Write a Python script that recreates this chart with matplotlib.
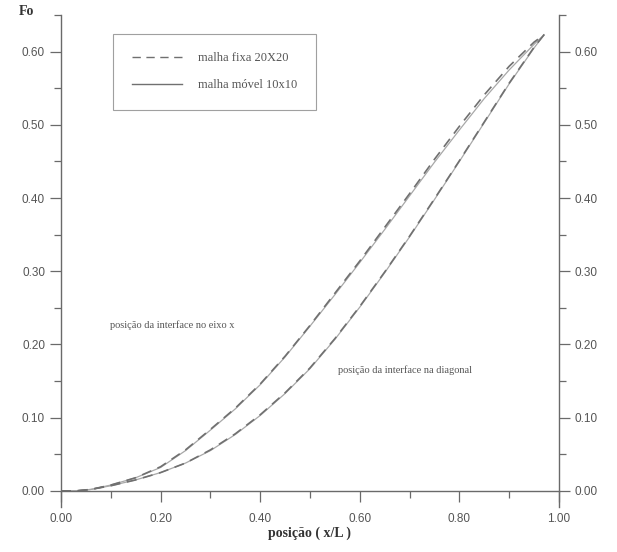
import numpy as np
import matplotlib.pyplot as plt
from matplotlib.ticker import MultipleLocator, FormatStrFormatter
from matplotlib.lines import Line2D

# posição (x/L)
x_pos = [0.00, 0.03, 0.06, 0.10, 0.15, 0.20, 0.25, 0.30, 0.35, 0.40, 0.45,
         0.50, 0.55, 0.60, 0.65, 0.70, 0.75, 0.80, 0.85, 0.90, 0.95, 0.97]

# interface no eixo x
fo_eixo_fixa = [0.000, 0.000, 0.002, 0.008, 0.018, 0.033, 0.056, 0.084, 0.113, 0.146, 0.184,
                0.226, 0.270, 0.314, 0.360, 0.406, 0.453, 0.498, 0.541, 0.580, 0.613, 0.623]
fo_eixo_movel = [0.000, 0.000, 0.002, 0.008, 0.018, 0.032, 0.055, 0.083, 0.112, 0.145, 0.183,
                 0.225, 0.268, 0.312, 0.357, 0.403, 0.449, 0.493, 0.536, 0.575, 0.610, 0.623]

# interface na diagonal
fo_diag_fixa = [0.000, 0.000, 0.002, 0.007, 0.015, 0.025, 0.038, 0.056, 0.078, 0.104, 0.134,
                0.168, 0.208, 0.252, 0.299, 0.348, 0.399, 0.451, 0.504, 0.557, 0.606, 0.623]
fo_diag_movel = [0.000, 0.000, 0.002, 0.007, 0.015, 0.025, 0.038, 0.055, 0.077, 0.103, 0.133,
                 0.167, 0.207, 0.251, 0.298, 0.347, 0.398, 0.450, 0.503, 0.556, 0.605, 0.623]

serif = ["Liberation Serif", "DejaVu Serif"]
sans = ["Liberation Sans", "DejaVu Sans"]
axis_col = "#6a6a6a"
text_col = "#555555"

fig = plt.figure(figsize=(6.17, 5.52), dpi=100)
ax = fig.add_axes([61 / 617, (552 - 507) / 552, (559 - 61) / 617, (507 - 15) / 552])

# solid (malha móvel) underneath, dashed (malha fixa) on top
ax.plot(x_pos, fo_eixo_movel, color="#a8a8a8", lw=0.9)
ax.plot(x_pos, fo_diag_movel, color="#a8a8a8", lw=0.9)
ax.plot(x_pos, fo_eixo_fixa, color="#707070", lw=1.2, dashes=(6, 4))
ax.plot(x_pos, fo_diag_fixa, color="#707070", lw=1.2, dashes=(6, 4))

ax.set_xlim(0, 1.0)

ax.spines["top"].set_visible(False)
ax.spines["bottom"].set_position(("data", 0))
for s in ["left", "right", "bottom"]:
    ax.spines[s].set_color(axis_col)
    ax.spines[s].set_linewidth(1.0)

ax.xaxis.set_major_locator(MultipleLocator(0.2))
ax.xaxis.set_minor_locator(MultipleLocator(0.1))
ax.yaxis.set_minor_locator(MultipleLocator(0.05))
ax.xaxis.set_major_formatter(FormatStrFormatter("%.2f"))
ax.yaxis.set_major_formatter(FormatStrFormatter("%.2f"))
ax.set_yticks(np.arange(0, 0.61, 0.1))
ax.set_ylim(-0.022, 0.65)

ax.tick_params(axis="both", which="major", direction="out", length=8, width=0.9,
               color=axis_col, labelcolor=text_col, labelsize=8.5)
ax.tick_params(axis="both", which="minor", direction="out", length=5, width=0.9, color=axis_col)
ax.tick_params(axis="y", which="both", left=True, right=True, labelleft=True, labelright=True)
ax.tick_params(axis="x", which="major", pad=8)
for lab in ax.get_xticklabels() + ax.get_yticklabels():
    lab.set_family(sans)

ax.text(-0.085, 0.655, "Fo", fontsize=10, fontweight="bold", family=serif,
        color="#333333", va="center", ha="left")
ax.set_xlabel("posição ( x/L )", fontsize=10, fontweight="bold", family=serif,
              color="#333333", labelpad=1)

ax.text(0.098, 0.227, "posição da interface no eixo x", fontsize=7.5, family=serif,
        color=text_col, va="center", ha="left")
ax.text(0.556, 0.165, "posição da interface na diagonal", fontsize=7.5, family=serif,
        color=text_col, va="center", ha="left")

handles = [Line2D([], [], color="#707070", lw=1.0, dashes=(6, 4)),
           Line2D([], [], color="#707070", lw=1.0)]
leg = ax.legend(handles, ["malha fixa 20X20", "malha móvel 10x10"],
                loc="upper left", bbox_to_anchor=(0.104, 0.962), frameon=True,
                fancybox=False, edgecolor="#888888", handlelength=4.0,
                borderpad=1.5, labelspacing=1.2, handletextpad=1.3,
                borderaxespad=0, prop={"family": serif, "size": 9})
leg.get_frame().set_linewidth(0.8)
for t in leg.get_texts():
    t.set_color(text_col)

fig.savefig("out.png", dpi=100)
